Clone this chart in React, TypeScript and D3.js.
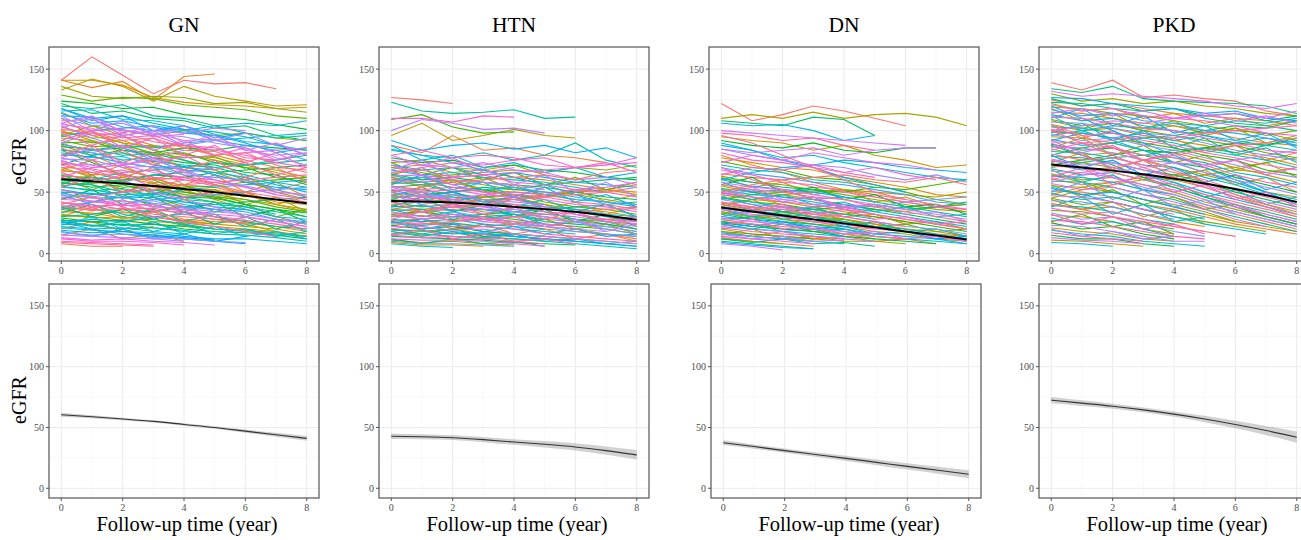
import React from 'react';
import * as d3 from 'd3';

// eGFR trajectories per diagnosis, one value per follow-up year (0, 1, 2, ...)
const gnTraj = [
  [141, 160, 145, 130, 141, 138, 139, 134],
  [141, 135, 140, 125, 144, 146],
  [141, 141, 137, 127, 123, 121, 120, 118, 119],
  [133, 142, 136, 124, 136, 128, 124, 120, 121],
  [136, 128, 126, 128, 127, 122, 123, 118, 115],
  [129, 124, 127, 126, 121, 119, 117, 112, 110],
  [124, 122, 118, 119, 113, 111, 109, 105, 101],
  [122, 114, 116, 110, 108, 102, 104, 96, 92],
  [120, 118, 121, 112, 110, 104, 98, 94, 96],
  [118, 110, 112, 106, 101, 99, 95, 88, 84],
  [116, 117, 109, 108, 104, 97, 91, 89, 80],
  [114, 106, 108, 103, 98, 96, 90, 82, 86],
  [112, 111, 103, 100, 101, 92, 88, 84, 76],
  [110, 104, 106, 97, 95, 90, 86, 78, 72],
  [108, 109, 100, 98, 92, 93, 84, 80, 82],
  [106, 100, 101, 95, 97],
  [105, 102, 94, 96, 88, 84, 80, 74, 70],
  [103, 96, 98, 91, 88, 86, 78, 76],
  [101, 99, 92, 94, 86, 80, 82, 72, 66],
  [99, 94, 95, 88, 84, 83, 76, 70, 68],
  [97, 98, 90, 87, 88, 80, 74],
  [96, 90, 92, 84, 80, 78, 72, 66, 60],
  [94, 92, 86, 88, 81, 76, 70, 68, 62],
  [92, 87, 88, 82, 78, 79, 69],
  [90, 91, 84, 80, 82, 74, 70, 62, 58],
  [89, 84, 86, 78, 74, 72, 66, 64, 56],
  [87, 85, 80, 81, 76, 70],
  [85, 80, 82, 75, 72, 70, 64, 58, 54],
  [84, 82, 76, 78, 70, 68],
  [82, 78, 79, 72, 68, 66, 62, 56, 50],
  [80, 79, 74, 70, 71, 64, 58, 54, 52],
  [78, 72, 74, 70, 64, 62, 60, 52, 46],
  [77, 76, 70, 71, 66, 60],
  [75, 70, 72, 66, 62, 60, 55, 50, 48],
  [73, 72, 66, 68, 60, 58, 54, 48, 44],
  [72, 66, 68, 62, 60, 55],
  [70, 69, 64, 60, 62, 56, 50, 46, 42],
  [68, 64, 65, 58, 56, 54, 48, 44],
  [67, 66, 60, 61, 55, 50, 50, 42, 40],
  [65, 60, 62, 57, 52, 52, 46],
  [63, 62, 58, 54, 56, 48, 44, 40, 36],
  [62, 57, 59, 52, 50, 47, 42],
  [60, 59, 54, 55, 48, 46, 44, 38, 34],
  [58, 54, 56, 50, 46, 45, 40, 36, 33],
  [57, 56, 50, 52, 46, 42],
  [55, 51, 53, 47, 44, 42, 38, 34, 30],
  [54, 52, 48, 49, 42, 40, 38, 32],
  [52, 48, 50, 44, 42, 38, 36, 30, 28],
  [50, 49, 45, 46, 40, 36],
  [49, 45, 46, 41, 38, 36, 34, 28, 26],
  [47, 46, 42, 43, 37, 34, 32, 28, 24],
  [46, 42, 43, 38, 36, 32],
  [44, 43, 39, 40, 34, 32, 30, 26, 22],
  [42, 38, 40, 35, 34, 30, 28],
  [41, 40, 36, 37, 32, 28, 27, 24, 20],
  [39, 35, 37, 32, 30, 28, 24],
  [37, 36, 33, 34, 28, 26, 25, 22, 18],
  [36, 32, 34, 30, 27, 24],
  [34, 33, 29, 30, 26, 24, 22, 20, 16],
  [32, 29, 30, 26, 25, 22, 20, 18],
  [31, 30, 27, 28, 23, 20, 19, 17, 14],
  [29, 26, 27, 24, 22, 20],
  [27, 26, 23, 24, 20, 18, 17, 15, 12],
  [26, 23, 24, 21, 19, 16],
  [24, 23, 20, 21, 18, 16, 15, 13, 10],
  [22, 20, 21, 18, 16],
  [21, 19, 18, 17, 14, 12, 12, 10, 8],
  [19, 17, 18, 15, 13, 11],
  [17, 15, 16, 13, 12, 10, 9],
  [15, 14, 13, 12, 10],
  [13, 11, 12, 10, 9, 7],
  [12, 10, 10, 9, 7],
  [10, 9, 8, 7],
  [9, 8, 7, 6],
  [8, 6, 6],
  [100, 92, 82, 74, 64, 56, 48, 40, 34],
  [88, 80, 70, 62, 52, 44, 36, 30, 24],
  [70, 62, 52, 46, 38, 30, 24, 18, 14],
  [115, 104, 96, 84, 76, 68, 60, 50, 44],
  [45, 48, 50, 52, 54, 55, 58, 60, 62],
  [55, 58, 60, 64, 62, 66, 68, 70, 72],
  [30, 32, 36, 34, 38, 40, 42, 44, 46],
  [60, 62, 58, 64, 66, 70, 72, 74, 76],
  [80, 84, 88, 86, 90, 92, 94, 96, 98],
  [95, 100, 102, 104, 100, 104, 106, 104, 108],
  [25, 28, 26, 30, 32, 34, 36],
  [38, 42, 40, 44, 46, 48, 50, 52, 54],
  [112, 100, 108, 96, 104, 92, 98, 88, 94],
  [106, 112, 98, 104, 90, 96, 84, 90, 80],
  [98, 88, 96, 84, 92, 80, 86, 76, 82],
  [92, 100, 86, 94, 80, 88, 74, 82, 70],
  [86, 76, 84, 72, 80, 68, 74, 64, 70],
  [80, 88, 74, 82, 68, 76, 62, 70, 58],
  [74, 64, 72, 60, 68, 56, 62, 52, 58],
  [68, 76, 62, 70, 56, 64, 50, 58, 46],
  [62, 52, 60, 48, 56, 44, 50, 40, 46],
  [56, 64, 50, 58, 44, 52, 40, 46, 34],
  [50, 42, 48, 38, 44, 34, 40, 30, 36],
  [44, 52, 40, 46, 34, 42, 30, 36, 26],
  [38, 30, 36, 28, 34, 24, 30, 20, 26],
  [33, 40, 30, 36, 26, 32, 22, 28, 18],
  [28, 22, 26, 18, 24, 16, 20, 14, 18],
  [23, 30, 20, 26, 16, 22, 14, 18, 12],
  [18, 14, 20, 12, 16, 10, 14],
  [118, 108, 112, 100, 104, 94, 98],
  [102, 110, 96, 100, 88, 92],
  [90, 82, 88, 78, 84],
  [78, 86, 72, 78, 66, 70],
  [66, 58, 64, 54, 60],
  [54, 62, 50, 56, 46, 50],
  [42, 36, 44, 34, 40],
  [30, 38, 28, 34, 24],
  [20, 26, 18, 22],
  [15, 20, 12, 16, 10],
  [110, 96, 90, 80, 70, 66, 58, 52, 46],
  [96, 104, 100, 96, 100, 96, 98, 94, 92],
  [84, 74, 64, 60, 50, 46, 40, 36, 30],
  [72, 80, 84, 82, 86, 84, 88, 86, 84],
  [64, 56, 46, 40, 34, 30, 26, 22, 20],
  [58, 60, 66, 68, 70, 74, 72, 76, 80],
  [48, 40, 32, 28, 24, 20, 18, 16, 14],
  [36, 42, 46, 48, 52, 54, 56, 58, 60],
  [26, 20, 16, 14, 12, 10, 8],
  [104, 94, 86, 76, 68, 60, 54, 48],
  [90, 98, 96, 100, 98, 102, 100],
  [76, 68, 60, 50, 44, 38, 30, 26, 22],
  [62, 70, 72, 76, 78, 80, 82, 84, 86],
  [52, 46, 38, 30, 26, 22, 18, 14],
  [40, 46, 50, 52, 56, 58, 60, 62, 64],
];

const htnTraj = [
  [127, 125, 122],
  [123, 116, 114, 115, 117, 110, 111],
  [110, 110, 107, 112, 111],
  [109, 113, 103, 98, 99],
  [100, 109, 106, 101, 102, 98],
  [96, 106, 92, 96, 101, 96, 94],
  [92, 84, 88, 90, 85, 88, 82, 86, 78],
  [88, 82, 96, 84, 86, 80, 78, 74],
  [84, 80, 78, 82, 76, 80, 90, 76, 70],
  [80, 84, 78, 80, 78, 72, 70, 74, 66],
  [78, 74, 76, 70, 72, 68, 66, 62, 60],
  [76, 72, 70, 74, 68, 66, 60, 62, 56],
  [74, 76, 70, 68, 72, 64],
  [72, 68, 70, 64, 66, 62, 58, 56, 54],
  [70, 72, 66, 68, 62, 60, 56, 52, 50],
  [68, 64, 66, 62, 60, 58, 54, 50],
  [66, 68, 62, 64, 58, 56, 52, 50, 46],
  [65, 60, 62, 58, 56, 54, 50, 46, 44],
  [63, 64, 60, 58, 56, 52],
  [62, 58, 60, 56, 52, 50, 48, 44, 40],
  [60, 62, 56, 58, 54, 50, 46, 42, 40],
  [58, 56, 58, 52, 50, 48, 44],
  [57, 58, 54, 52, 54, 48, 44, 42, 38],
  [55, 52, 54, 50, 48, 46, 42, 40, 36],
  [54, 56, 50, 52, 48, 44],
  [52, 50, 52, 48, 46, 44, 40, 38, 34],
  [51, 52, 48, 46, 48, 42, 38, 36, 32],
  [50, 46, 48, 44, 42, 40],
  [48, 50, 46, 44, 44, 40, 36, 34, 30],
  [47, 44, 46, 42, 40, 38, 36, 32, 30],
  [46, 47, 42, 44, 40, 36],
  [44, 42, 44, 40, 38, 36, 34, 30, 26],
  [43, 44, 40, 38, 40, 34, 32, 28, 26],
  [42, 38, 40, 36, 34, 32, 30],
  [40, 42, 38, 36, 36, 32, 30, 26, 22],
  [39, 36, 38, 34, 32, 30, 28, 26, 24],
  [38, 39, 35, 36, 32, 28],
  [36, 34, 36, 32, 30, 28, 26, 24, 20],
  [35, 36, 32, 30, 32, 26, 24, 22, 18],
  [34, 30, 32, 28, 26, 24, 22],
  [32, 34, 30, 30, 28, 24, 22, 20, 16],
  [31, 28, 30, 26, 24, 22, 20, 18],
  [30, 31, 27, 28, 24, 22, 20, 16, 14],
  [28, 26, 28, 24, 22, 20],
  [27, 28, 24, 22, 24, 20, 18, 16, 12],
  [26, 23, 25, 22, 20, 18, 16],
  [24, 25, 22, 22, 20, 16, 14, 12, 10],
  [23, 20, 22, 18, 16, 14],
  [22, 22, 19, 20, 16, 14, 12, 10, 8],
  [20, 18, 20, 16, 14, 12, 10],
  [19, 19, 16, 17, 14, 12, 10, 8, 6],
  [18, 15, 17, 14, 12, 10],
  [16, 16, 14, 13, 12, 10, 8, 6, 4],
  [15, 13, 14, 12, 10, 8],
  [14, 13, 12, 11, 9, 8, 7],
  [12, 11, 11, 10, 8, 6],
  [11, 9, 10, 8, 7],
  [10, 8, 8, 7, 6],
  [9, 7, 7, 6],
  [8, 6, 5],
  [30, 34, 38, 40, 44, 46, 48, 50, 54],
  [45, 48, 50, 54, 52, 56, 58, 60, 62],
  [60, 58, 62, 64, 66, 68, 70, 72, 74],
  [70, 66, 60, 52, 46, 40, 32, 26, 20],
  [55, 50, 44, 40, 34, 30, 26, 20, 16],
  [40, 42, 44, 46, 44, 48, 50, 52, 48],
  [85, 80, 74, 68, 62, 56, 48, 40, 30],
  [50, 54, 58, 60, 62, 64, 60, 66, 68],
  [25, 28, 30, 32, 34, 36, 38, 40, 42],
  [66, 70, 74, 72, 76, 78, 70, 72, 78],
  [74, 64, 70, 60, 66, 56, 62, 52, 58],
  [68, 76, 62, 70, 56, 64, 50, 58, 46],
  [62, 54, 60, 50, 56, 46, 52, 42, 48],
  [56, 64, 52, 58, 46, 54, 42, 48, 38],
  [50, 42, 48, 40, 46, 36, 42, 32, 38],
  [46, 54, 42, 48, 38, 44, 34, 40, 30],
  [42, 34, 40, 32, 38, 28, 34, 26, 30],
  [38, 46, 34, 40, 30, 36, 26, 32, 22],
  [34, 28, 32, 26, 30, 22, 28, 18, 24],
  [30, 36, 28, 32, 24, 28, 20, 24, 16],
  [26, 20, 24, 18, 22, 16, 20, 14, 16],
  [22, 28, 20, 24, 16, 20, 12, 16, 10],
  [18, 14, 18, 12, 16, 10, 12, 8, 10],
  [15, 20, 12, 16, 10, 12, 8],
  [12, 8, 12, 8, 10, 6],
  [80, 72, 78, 66, 70],
  [64, 70, 58, 62, 52],
  [52, 46, 50, 42, 46, 38],
  [44, 50, 40, 44, 36],
  [36, 30, 34, 28, 32, 24],
  [28, 34, 26, 30, 22],
  [20, 16, 20, 14, 16],
  [72, 64, 56, 50, 44, 38, 32, 28, 24],
  [58, 62, 64, 66, 68, 66, 70, 68, 72],
  [48, 40, 34, 30, 26, 22, 18, 16, 14],
  [36, 40, 44, 46, 48, 46, 50, 52, 56],
  [26, 22, 18, 16, 14, 12, 10, 8, 6],
  [20, 24, 26, 28, 30, 32, 34, 36, 38],
  [64, 58, 50, 44, 38, 34, 28, 24, 20],
  [42, 46, 44, 48, 50, 48, 52, 54, 58],
  [32, 28, 22, 18, 16, 14, 12, 10, 8],
  [54, 48, 44, 38, 34, 30, 26, 22, 18],
  [16, 18, 20, 22, 24, 22, 26, 28, 30],
  [88, 76, 80, 70, 74, 66, 70, 62, 66],
];

const dnTraj = [
  [122, 108, 113, 120, 116, 110, 104],
  [110, 113, 110, 115, 110, 113, 114, 111, 104],
  [108, 106, 104, 111, 109, 96],
  [106, 104, 105, 100, 92, 96],
  [100, 98, 96, 94, 92, 90, 88],
  [98, 96, 92, 94, 88, 84],
  [95, 92, 90, 84, 88, 80, 76, 70, 72],
  [92, 88, 86, 90, 84, 82, 86, 86],
  [88, 84, 78, 80, 74, 70, 66, 62, 60],
  [85, 80, 76, 72, 70, 64, 60, 64, 58],
  [82, 76, 74, 70, 66, 62],
  [78, 74, 70, 68, 62, 58, 54, 48, 46],
  [75, 70, 68, 62, 60, 56, 50, 44, 40],
  [72, 68, 66, 60, 58, 54],
  [70, 65, 62, 58, 56, 52, 48, 42, 40],
  [68, 64, 58, 56, 50, 46, 42, 38, 36],
  [65, 62, 60, 54, 52, 48, 44],
  [63, 58, 56, 52, 48, 44, 40, 36, 34],
  [61, 58, 54, 52, 46, 42, 38, 34, 30],
  [60, 55, 52, 50, 46, 42],
  [58, 54, 52, 48, 44, 40, 36, 32, 28],
  [56, 52, 50, 46, 44, 38, 34, 30, 26],
  [55, 50, 48, 44, 40, 36],
  [53, 50, 46, 44, 40, 36, 32, 28, 24],
  [52, 48, 46, 42, 38, 34, 30, 26, 22],
  [50, 46, 44, 40, 36, 32],
  [49, 46, 42, 40, 36, 32, 28, 24, 20],
  [48, 44, 42, 38, 34, 30, 26],
  [46, 42, 40, 36, 32, 30, 26, 22, 18],
  [45, 42, 38, 36, 32, 28],
  [44, 40, 38, 34, 30, 26, 22, 20, 16],
  [42, 38, 36, 32, 30, 26, 22],
  [41, 38, 34, 32, 28, 24, 20, 18, 14],
  [40, 36, 34, 30, 28],
  [38, 35, 32, 30, 26, 22, 20, 16, 12],
  [37, 34, 30, 28, 24, 22],
  [36, 32, 30, 26, 24, 20, 18, 14, 10],
  [34, 31, 28, 26, 22, 20],
  [33, 30, 28, 24, 22, 18, 16, 12, 10],
  [32, 28, 26, 24, 20],
  [30, 28, 24, 22, 20, 16, 14, 12, 8],
  [29, 26, 24, 20, 18, 16],
  [28, 24, 22, 20, 16, 14, 12],
  [26, 24, 20, 18, 16, 12],
  [25, 22, 20, 18, 14, 12, 10, 8],
  [24, 20, 18, 16, 14],
  [22, 20, 18, 14, 12, 10],
  [21, 18, 16, 14, 12],
  [20, 16, 14, 12, 10],
  [18, 16, 14, 12],
  [17, 14, 12, 10, 8],
  [16, 14, 12, 10],
  [14, 12, 10, 8],
  [13, 10, 8, 6],
  [12, 10, 8],
  [10, 8, 6, 4],
  [9, 7, 5, 4],
  [8, 6, 3],
  [50, 56, 60, 62, 64, 60, 58, 62, 56],
  [40, 44, 48, 50, 52, 50, 48, 46, 50],
  [28, 30, 34, 36, 38, 40, 36, 38, 42],
  [60, 66, 70, 72, 76, 74, 70, 68, 66],
  [85, 82, 84, 86, 80, 84, 86, 86],
  [96, 90, 80, 70, 60, 50, 44, 40, 36],
  [62, 54, 58, 48, 52, 42, 46, 38, 40],
  [56, 62, 50, 54, 44, 48, 38, 40, 32],
  [50, 44, 48, 40, 42, 34, 38, 30, 32],
  [46, 52, 42, 46, 36, 40, 32, 34, 26],
  [42, 36, 40, 32, 36, 28, 30, 24, 26],
  [38, 44, 34, 38, 30, 32, 24, 26, 20],
  [34, 28, 32, 26, 28, 22, 24, 18, 20],
  [30, 36, 28, 30, 22, 26, 18, 20, 14],
  [26, 22, 26, 20, 22, 16, 18, 12, 14],
  [22, 28, 20, 22, 16, 18, 12, 14, 10],
  [18, 14, 18, 12, 14, 10, 12, 8],
  [15, 20, 12, 14, 10, 10, 8],
  [12, 9, 12, 8, 9, 6],
  [58, 50, 52, 44, 46],
  [48, 54, 44, 46, 38, 40],
  [40, 34, 38, 30, 32],
  [32, 38, 28, 30, 24],
  [24, 20, 24, 18, 20, 14],
  [20, 24, 18, 20, 14],
  [16, 12, 14, 10, 11],
  [70, 60, 52, 44, 38, 32, 28, 24, 20],
  [52, 46, 40, 34, 28, 24, 20, 16, 14],
  [44, 48, 50, 52, 50, 54, 52, 56, 60],
  [36, 30, 26, 22, 18, 14, 12, 10, 8],
  [30, 34, 36, 38, 40, 38, 42, 44, 46],
  [64, 70, 68, 72, 66, 70, 64, 60],
  [80, 72, 66, 58, 52, 46, 42, 38, 34],
  [26, 30, 32, 34, 32, 36, 34, 38, 40],
  [46, 40, 34, 30, 26, 22, 18, 14, 12],
  [90, 84, 76, 70, 62, 56, 50],
  [74, 80, 76, 82, 78, 74, 72, 68],
];

const pkdTraj = [
  [139, 133, 141, 127, 129, 126, 124, 116, 112],
  [134, 131, 136, 126, 124, 123, 122, 120, 114],
  [132, 128, 130, 128, 126, 124, 120, 118, 122],
  [130, 124, 126, 122, 124, 120, 118, 114, 112],
  [127, 126, 122, 120, 118, 114, 116, 110, 108],
  [125, 120, 122, 118, 114, 112, 110, 108, 104],
  [123, 122, 118, 116, 118, 110, 106, 104, 100],
  [121, 116, 118, 112, 110, 108, 104, 98, 96],
  [119, 118, 114, 112, 108, 104, 100, 98, 92],
  [117, 112, 114, 108, 106, 100, 98, 94, 90],
  [115, 114, 110, 106, 104, 100, 94, 90, 88],
  [113, 108, 110, 104, 100, 96, 92, 88, 84],
  [111, 110, 106, 102, 100, 94, 90, 84, 82],
  [109, 104, 106, 100, 96, 92, 88, 82, 78],
  [107, 106, 102, 98, 96, 90, 84, 80, 76],
  [105, 100, 102, 96, 92, 88, 82, 78, 72],
  [103, 102, 98, 94, 90, 84, 80, 76, 70],
  [101, 96, 98, 92, 88, 82, 78, 72, 68],
  [99, 98, 94, 90, 86, 80, 76, 68, 64],
  [97, 92, 94, 88, 84, 78, 72, 66, 62],
  [95, 94, 90, 84, 82, 76, 70, 64, 58],
  [93, 88, 90, 84, 78, 74, 66, 62, 56],
  [91, 90, 86, 80, 78, 72, 64, 58, 54],
  [89, 84, 86, 80, 74, 70, 62, 56, 50],
  [87, 86, 82, 76, 74, 66, 60, 54, 48],
  [85, 80, 82, 76, 70, 64, 58, 50, 46],
  [83, 82, 78, 72, 70, 62, 56, 48, 42],
  [81, 76, 78, 72, 66, 60, 52, 46, 40],
  [79, 78, 74, 68, 64, 58, 50, 44, 38],
  [77, 72, 74, 68, 62, 56, 48, 42, 36],
  [75, 74, 70, 64, 60, 54, 46, 40, 34],
  [73, 68, 70, 64, 58, 50, 44, 38, 32],
  [71, 70, 66, 60, 56, 48, 42, 36, 30],
  [69, 64, 66, 60, 54, 46, 40, 34, 28],
  [67, 66, 62, 56, 52, 44, 38, 32, 26],
  [65, 60, 62, 56, 50, 42, 36, 30, 24],
  [63, 62, 58, 52, 48, 40, 34, 28, 22],
  [61, 56, 58, 52, 46, 38, 32, 26, 20],
  [59, 58, 54, 48, 44, 36, 30, 24, 18],
  [57, 52, 54, 48, 42, 36, 28, 22],
  [55, 54, 50, 44, 40, 34, 26],
  [53, 48, 50, 44, 38, 32],
  [51, 50, 46, 40, 36, 30, 24, 20, 16],
  [49, 44, 46, 40, 34, 28],
  [47, 46, 42, 36, 32],
  [45, 40, 42, 36, 30, 26, 22, 18],
  [43, 42, 38, 32, 28],
  [41, 36, 38, 32, 26, 22],
  [39, 38, 34, 28, 24],
  [37, 32, 34, 28, 22, 18],
  [35, 34, 30, 24, 20],
  [33, 28, 30, 24, 18, 14],
  [31, 30, 26, 20, 16],
  [29, 24, 26, 20, 14],
  [27, 26, 22, 18, 14, 12],
  [25, 20, 22, 16, 12],
  [23, 22, 18, 14, 10, 10],
  [21, 18, 16, 12, 10],
  [19, 16, 14, 10, 8, 6],
  [17, 14, 12, 10],
  [15, 12, 12, 8, 6],
  [13, 11, 10, 8],
  [11, 10, 8, 6],
  [9, 8, 6],
  [60, 66, 70, 76, 80, 84, 88, 90, 94],
  [80, 86, 90, 94, 96, 100, 104, 102, 108],
  [100, 104, 108, 106, 110, 112, 114, 110, 116],
  [45, 52, 56, 60, 64, 68, 70, 74, 78],
  [120, 110, 100, 90, 80, 70, 60, 50, 40],
  [105, 96, 86, 76, 68, 58, 48, 40, 32],
  [70, 74, 78, 80, 84, 86, 82, 88, 92],
  [90, 80, 70, 64, 56, 48, 40, 32, 26],
  [118, 108, 114, 102, 108, 96, 102, 90, 96],
  [110, 118, 104, 112, 98, 104, 92, 98, 86],
  [104, 94, 100, 88, 94, 82, 88, 76, 82],
  [98, 106, 92, 100, 86, 94, 80, 86, 74],
  [92, 82, 88, 76, 82, 70, 76, 64, 70],
  [86, 94, 80, 88, 74, 80, 68, 74, 62],
  [80, 70, 76, 64, 70, 58, 64, 52, 58],
  [74, 82, 68, 76, 62, 68, 56, 62, 50],
  [68, 58, 64, 52, 58, 46, 52, 40, 46],
  [62, 70, 56, 64, 50, 56, 44, 50, 38],
  [56, 46, 52, 40, 46, 36, 40, 30],
  [50, 58, 44, 52, 38, 44, 32],
  [44, 36, 42, 30, 36, 24],
  [38, 46, 32, 40, 26, 30],
  [32, 24, 30, 20, 24, 16],
  [26, 32, 22, 26, 16],
  [20, 14, 18, 12, 14],
  [122, 116, 118, 110, 114, 106, 110, 104, 108],
  [96, 100, 104, 102, 106, 104, 108, 106, 110],
  [84, 90, 92, 96, 94, 98, 100, 102, 104],
  [72, 76, 80, 84, 82, 86, 90, 88, 94],
  [58, 64, 66, 70, 74, 72, 76, 80, 84],
  [48, 54, 58, 62, 60, 64, 68, 66, 70],
  [112, 100, 92, 84, 74, 66, 58, 50, 44],
  [100, 90, 80, 70, 62, 54, 46, 38, 30],
  [88, 80, 72, 62, 54, 46, 38, 30, 24],
  [76, 70, 62, 54, 48, 40, 34, 28, 22],
  [64, 58, 50, 44, 38, 32, 26, 22, 18],
  [54, 48, 42, 36, 30, 24, 20, 16],
  [40, 36, 30, 26, 22, 18, 14],
  [126, 120, 122, 116, 118, 112, 114, 108, 112],
  [114, 118, 112, 116, 110, 114, 108, 112, 106],
  [108, 102, 106, 100, 104, 98, 102, 96, 100],
  [92, 98, 94, 98, 92, 96, 90, 94, 88],
];

// fitted mean curve and CI half-width at years 0..8
const years = [0, 1, 2, 3, 4, 5, 6, 7, 8];
const gnMean = [60.5, 58.8, 57, 55, 52.5, 50, 47, 44, 41];
const htnMean = [42.8, 42.4, 41.6, 40, 38, 36.2, 34, 31, 27.5];
const dnMean = [37.5, 34.3, 31, 27.8, 24.6, 21.3, 18, 14.8, 11.5];
const pkdMean = [72.5, 70, 67.5, 64.5, 61, 57, 52.5, 47.5, 42];
const gnCi = [1.6, 1.2, 1, 1, 1, 1.1, 1.3, 1.6, 2];
const htnCi = [2.3, 2, 2, 2.1, 2.3, 2.6, 3, 3.4, 3.9];
const dnCi = [2, 1.8, 1.8, 1.9, 2.1, 2.3, 2.6, 2.9, 3.3];
const pkdCi = [2.6, 2.3, 2.1, 2, 2.2, 2.6, 3.1, 3.8, 4.6];

const diagnoses = ['GN', 'HTN', 'DN', 'PKD'];
const xTicks = [0, 2, 4, 6, 8];
const xMinor = [1, 3, 5, 7];
const yTicks = [0, 50, 100, 150];
const yMinor = [25, 75, 125];

const panels = [
  { name: 'GN', traj: gnTraj, mean: gnMean, ci: gnCi },
  { name: 'HTN', traj: htnTraj, mean: htnMean, ci: htnCi },
  { name: 'DN', traj: dnTraj, mean: dnMean, ci: dnCi },
  { name: 'PKD', traj: pkdTraj, mean: pkdMean, ci: pkdCi },
];

const font = '"Liberation Serif", "Times New Roman", serif';

// ggplot2 hue palette (polar LUV, c=100, l=65)
function hueColor(h: number) {
  const l = 65, c = 100;
  const hr = (h * Math.PI) / 180;
  const u = c * Math.cos(hr), v = c * Math.sin(hr);
  const Y = Math.pow((l + 16) / 116, 3);
  const Xn = 0.95047, Yn = 1, Zn = 1.08883;
  const den = Xn + 15 * Yn + 3 * Zn;
  const up = u / (13 * l) + (4 * Xn) / den;
  const vp = v / (13 * l) + (9 * Yn) / den;
  const X = (Y * 9 * up) / (4 * vp);
  const Z = (Y * (12 - 3 * up - 20 * vp)) / (4 * vp);
  const lin = [
    3.2406 * X - 1.5372 * Y - 0.4986 * Z,
    -0.9689 * X + 1.8758 * Y + 0.0415 * Z,
    0.0557 * X - 0.204 * Y + 1.057 * Z,
  ];
  const [r, g, b] = lin.map(ch => {
    const s = ch <= 0.0031308 ? 12.92 * ch : 1.055 * Math.pow(ch, 1 / 2.4) - 0.055;
    return Math.round(Math.max(0, Math.min(1, s)) * 255);
  });
  return d3.rgb(r, g, b).formatHex();
}

function gcd(a: number, b: number): number {
  return b === 0 ? a : gcd(b, a % b);
}

function Panel({ p, col, row }: { p: any; col: number; row: number }) {
  const left = 49 + 330 * col + (row === 1 && col === 2 ? 2 : 0);
  const width = 270;
  const top = row === 0 ? 47 : 284;
  const height = 214;
  const x = d3.scaleLinear().domain([-0.4, 8.4]).range([left, left + width]);
  const y = d3.scaleLinear().domain(row === 0 ? [-6, 168] : [-8, 168]).range([top + height, top]);
  const clipId = `clip-${col}-${row}`;

  const line = d3.line<number>().x((_, i) => x(i)).y(d => y(d));
  const meanLine = d3.line<number>().x((_, i) => x(years[i])).y(d => y(d)).curve(d3.curveMonotoneX);
  const band = d3
    .area<number>()
    .x((_, i) => x(years[i]))
    .y0((d, i) => y(d - p.ci[i]))
    .y1((d, i) => y(d + p.ci[i]))
    .curve(d3.curveMonotoneX);

  // draw order scrambled; colour follows draw order like ggplot groups
  const n = p.traj.length;
  let k = 37;
  while (gcd(k, n) !== 1) k += 2;
  const order = d3.range(n).map(i => (i * k) % n);

  return (
    <g>
      <defs>
        <clipPath id={clipId}>
          <rect x={left} y={top} width={width} height={height} />
        </clipPath>
      </defs>
      <rect x={left} y={top} width={width} height={height} fill="#fff" />
      {xMinor.map(t => (
        <line key={'xm' + t} x1={x(t)} x2={x(t)} y1={top} y2={top + height} stroke="#f3f3f3" strokeWidth={0.6} />
      ))}
      {yMinor.map(t => (
        <line key={'ym' + t} x1={left} x2={left + width} y1={y(t)} y2={y(t)} stroke="#f3f3f3" strokeWidth={0.6} />
      ))}
      {xTicks.map(t => (
        <line key={'xg' + t} x1={x(t)} x2={x(t)} y1={top} y2={top + height} stroke="#ebebeb" strokeWidth={1} />
      ))}
      {yTicks.map(t => (
        <line key={'yg' + t} x1={left} x2={left + width} y1={y(t)} y2={y(t)} stroke="#ebebeb" strokeWidth={1} />
      ))}
      <g clipPath={`url(#${clipId})`}>
        {row === 0 &&
          order.map((ti, pos) => (
            <path
              key={'t' + pos}
              d={line(p.traj[ti]) || ''}
              fill="none"
              stroke={hueColor(15 + (360 * pos) / n)}
              strokeWidth={1.1}
            />
          ))}
        {row === 0 && <path d={meanLine(p.mean) || ''} fill="none" stroke="#000" strokeWidth={1.9} />}
        {row === 1 && <path d={band(p.mean) || ''} fill="#999" fillOpacity={0.45} />}
        {row === 1 && <path d={meanLine(p.mean) || ''} fill="none" stroke="#333" strokeWidth={1.1} />}
      </g>
      <rect x={left} y={top} width={width} height={height} fill="none" stroke="#555" strokeWidth={1.2} />
      {yTicks.map(t => (
        <g key={'yt' + t}>
          <line x1={left - 3} x2={left} y1={y(t)} y2={y(t)} stroke="#555" strokeWidth={1} />
          <text x={left - 5} y={y(t)} dy="0.35em" textAnchor="end" fontSize={10} fill="#4d4d4d" fontFamily={font}>
            {t}
          </text>
        </g>
      ))}
      {xTicks.map(t => (
        <g key={'xt' + t}>
          <line x1={x(t)} x2={x(t)} y1={top + height} y2={top + height + 3} stroke="#555" strokeWidth={1} />
          <text x={x(t)} y={top + height + 13} textAnchor="middle" fontSize={10} fill="#4d4d4d" fontFamily={font}>
            {t}
          </text>
        </g>
      ))}
      {row === 0 && (
        <text x={left + width / 2} y={32} textAnchor="middle" fontSize={21.5} fill="#000" fontFamily={font}>
          {diagnoses[col]}
        </text>
      )}
      {row === 1 && (
        <text x={left + width / 2 + 3} y={531} textAnchor="middle" fontSize={20.5} fill="#000" fontFamily={font}>
          Follow-up time (year)
        </text>
      )}
      {col === 0 && (
        <text
          transform={`translate(26,${row === 0 ? 161 : 400}) rotate(-90)`}
          textAnchor="middle"
          fontSize={20}
          fill="#000"
          fontFamily={font}
        >
          eGFR
        </text>
      )}
    </g>
  );
}

export default function App() {
  return (
    <div style={{ position: 'absolute', left: 0, top: 0, width: 1301, height: 540, overflow: 'hidden', background: '#fff' }}>
      <svg width={1301} height={540} style={{ display: 'block' }}>
        <rect width={1301} height={540} fill="#fff" />
        {panels.map((p, col) =>
          [0, 1].map(row => <Panel key={p.name + row} p={p} col={col} row={row} />)
        )}
      </svg>
    </div>
  );
}
